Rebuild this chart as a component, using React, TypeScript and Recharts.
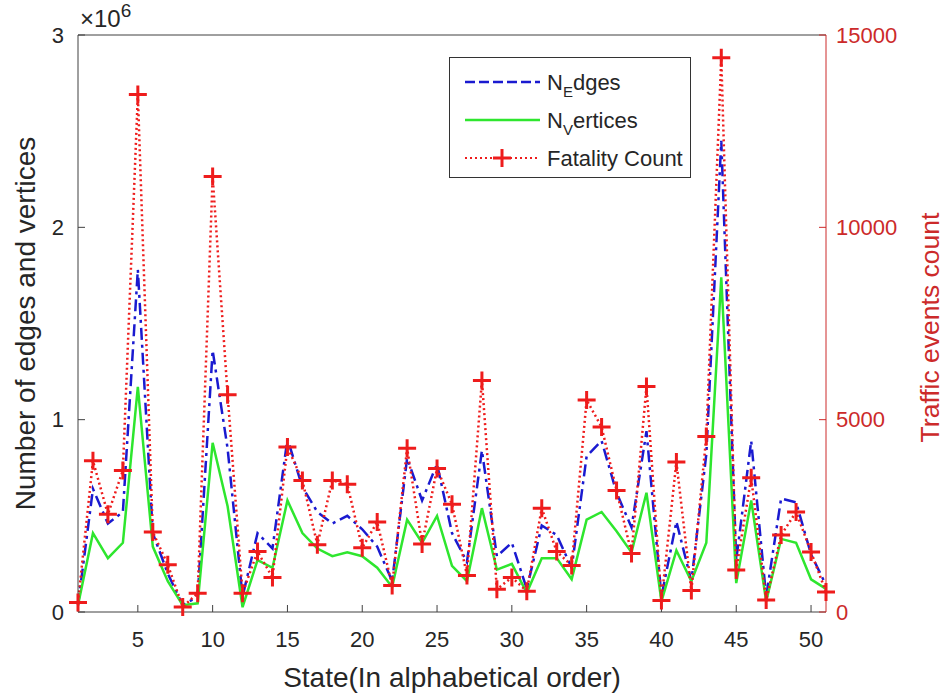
import React from "react";
import { LineChart, Line, XAxis, YAxis } from "recharts";

// state index, alphabetical
const states = [
  1, 2, 3, 4, 5, 6, 7, 8, 9, 10, 11, 12, 13, 14, 15, 16, 17, 18, 19, 20, 21, 22, 23, 24, 25, 26,
  27, 28, 29, 30, 31, 32, 33, 34, 35, 36, 37, 38, 39, 40, 41, 42, 43, 44, 45, 46, 47, 48, 49, 50, 51,
];

// number of edges (left axis)
const edges = [
  35000, 640000, 460000, 520000, 1780000, 410000, 200000, 35000, 80000, 1360000, 850000, 80000,
  410000, 330000, 900000, 650000, 520000, 460000, 500000, 430000, 340000, 160000, 800000, 580000,
  770000, 410000, 260000, 840000, 290000, 360000, 120000, 450000, 400000, 230000, 810000, 890000,
  620000, 440000, 940000, 80000, 470000, 160000, 820000, 2450000, 270000, 890000, 80000, 590000,
  570000, 300000, 140000,
];

// number of vertices (left axis)
const vertices = [
  35000, 410000, 280000, 360000, 1170000, 340000, 160000, 35000, 45000, 880000, 550000, 25000,
  270000, 230000, 580000, 410000, 330000, 290000, 310000, 290000, 230000, 130000, 480000, 360000,
  500000, 240000, 160000, 540000, 220000, 250000, 100000, 280000, 280000, 170000, 480000, 520000,
  420000, 310000, 620000, 55000, 320000, 160000, 360000, 1740000, 150000, 580000, 55000, 380000,
  360000, 170000, 120000,
];

// fatality count (right axis)
const fatality = [
  250, 3930, 2540, 3680, 13450, 2080, 1230, 130, 490, 11320, 5650, 490, 1570, 900, 4290, 3420,
  1750, 3420, 3320, 1670, 2340, 690, 4260, 1770, 3730, 2800, 950, 6020, 590, 900, 540, 2700, 1570,
  1210, 5510, 4810, 3160, 1520, 5860, 300, 3900, 560, 4560, 14410, 1090, 3490, 310, 2000, 2600,
  1560, 520,
];

const xTicks = [5, 10, 15, 20, 25, 30, 35, 40, 45, 50];
const leftTicks = [0, 1000000, 2000000, 3000000];
const rightTicks = [0, 5000, 10000, 15000];

const rows = states.map((s, i) => ({
  state: s,
  edges: edges[i],
  vertices: vertices[i],
  fatality: fatality[i],
}));

const FONT = "'Liberation Sans', Arial, sans-serif";
const AXIS = "#404040";
const TEXT = "#262626";
const BLUE = "#1a1ad0";
const GREEN = "#2ee62e";
const RED = "#ee1c1c";
const RED_AXIS = "#cc2a2a";

const PlusDot = (props: any) => {
  const { cx, cy, index } = props;
  if (cx == null || cy == null) return null;
  return (
    <path
      key={`plus-${index}`}
      d={`M${cx - 9},${cy}H${cx + 9}M${cx},${cy - 9}V${cy + 9}`}
      stroke={RED}
      strokeWidth={3}
      fill="none"
    />
  );
};

function LegendBox() {
  const rowY = [25, 63, 101];
  return (
    <svg
      width={243}
      height={122}
      style={{ position: "absolute", left: 449, top: 57, fontFamily: FONT }}
    >
      <rect x={0.5} y={0.5} width={241} height={120} fill="#fff" stroke="#333" strokeWidth={1} />
      <line x1={16} x2={91} y1={rowY[0]} y2={rowY[0]} stroke={BLUE} strokeWidth={2.5} strokeDasharray="10 4" />
      <line x1={16} x2={91} y1={rowY[1]} y2={rowY[1]} stroke={GREEN} strokeWidth={2.5} />
      <line x1={16} x2={91} y1={rowY[2]} y2={rowY[2]} stroke={RED} strokeWidth={2} strokeDasharray="2 3" />
      <path
        d={`M${53 - 9},${rowY[2]}H${53 + 9}M53,${rowY[2] - 9}V${rowY[2] + 9}`}
        stroke={RED}
        strokeWidth={3}
      />
      <text x={98} y={rowY[0] + 8} fontSize={22} fill={TEXT}>
        N<tspan dy={7} fontSize={15}>E</tspan>
        <tspan dy={-7}>dges</tspan>
      </text>
      <text x={98} y={rowY[1] + 8} fontSize={22} fill={TEXT}>
        N<tspan dy={7} fontSize={15}>V</tspan>
        <tspan dy={-7}>ertices</tspan>
      </text>
      <text x={98} y={rowY[2] + 8} fontSize={22} fill={TEXT}>
        Fatality Count
      </text>
    </svg>
  );
}

export default function App() {
  return (
    <div
      style={{
        position: "absolute",
        left: 0,
        top: 0,
        width: 948,
        height: 698,
        background: "#fff",
        fontFamily: FONT,
      }}
    >
      <LineChart
        width={948}
        height={698}
        data={rows}
        margin={{ top: 34, right: 12, bottom: 6, left: 18 }}
      >
        <XAxis
          xAxisId="top"
          orientation="top"
          dataKey="state"
          type="number"
          domain={[1, 51]}
          ticks={xTicks}
          tick={false}
          tickSize={-7}
          height={1}
          stroke={AXIS}
          allowDataOverflow
        />
        <XAxis
          dataKey="state"
          type="number"
          domain={[1, 51]}
          ticks={xTicks}
          tickSize={-7}
          tickMargin={26}
          height={80}
          stroke={AXIS}
          tick={{ fill: TEXT, fontSize: 22, fontFamily: FONT }}
          label={{
            value: "State(In alphabetical order)",
            position: "insideBottom",
            offset: 5,
            fill: TEXT,
            fontSize: 28,
            fontFamily: FONT,
          }}
        />
        <YAxis
          yAxisId="left"
          domain={[0, 3000000]}
          ticks={leftTicks}
          tickFormatter={(v: number) => String(v / 1000000)}
          tickSize={-7}
          tickMargin={21}
          width={60}
          stroke={AXIS}
          tick={{ fill: TEXT, fontSize: 22, fontFamily: FONT }}
          label={{
            value: "Number of edges and vertices",
            angle: -90,
            position: "center",
            dx: -23,
            fill: TEXT,
            fontSize: 28,
            fontFamily: FONT,
          }}
        />
        <YAxis
          yAxisId="right"
          orientation="right"
          domain={[0, 15000]}
          ticks={rightTicks}
          tickSize={-7}
          tickMargin={17}
          width={110}
          stroke={RED_AXIS}
          tick={{ fill: RED_AXIS, fontSize: 22, fontFamily: FONT }}
          label={{
            value: "Traffic events count",
            angle: -90,
            position: "center",
            dx: 49,
            dy: 4,
            fill: RED_AXIS,
            fontSize: 26.5,
            fontFamily: FONT,
          }}
        />
        <Line
          yAxisId="left"
          dataKey="edges"
          type="linear"
          stroke={BLUE}
          strokeWidth={2.5}
          strokeDasharray="12 5 3 5"
          dot={false}
          isAnimationActive={false}
        />
        <Line
          yAxisId="left"
          dataKey="vertices"
          type="linear"
          stroke={GREEN}
          strokeWidth={2.5}
          dot={false}
          isAnimationActive={false}
        />
        <Line
          yAxisId="right"
          dataKey="fatality"
          type="linear"
          stroke={RED}
          strokeWidth={2.5}
          strokeDasharray="2 3"
          dot={<PlusDot />}
          isAnimationActive={false}
        />
      </LineChart>
      <div
        style={{
          position: "absolute",
          left: 80,
          top: 6,
          fontSize: 24,
          color: TEXT,
          lineHeight: "26px",
        }}
      >
        ×10<sup style={{ fontSize: 19, verticalAlign: "top", position: "relative", top: -8 }}>6</sup>
      </div>
      <LegendBox />
    </div>
  );
}
